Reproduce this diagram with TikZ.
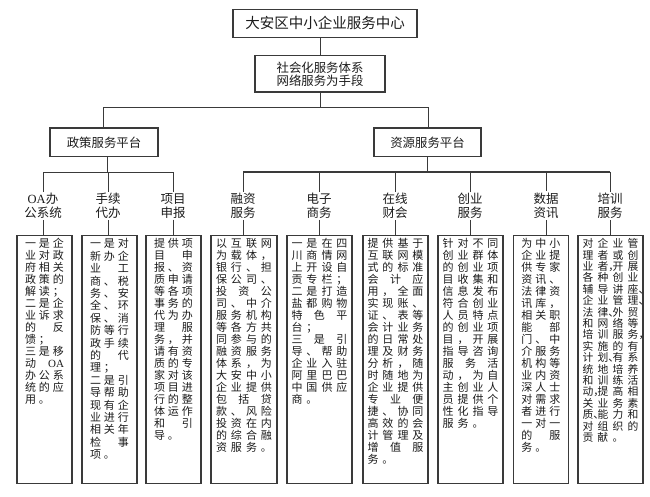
\documentclass[tikz,border=0pt]{standalone}
\usepackage{fontspec}
\setmainfont{Noto Sans CJK SC}
\newfontfamily\lserif{Liberation Serif}
\usetikzlibrary{calc}
\definecolor{linec}{HTML}{3A3A3A}
\definecolor{txtc}{HTML}{1C1C1C}
\setlength\parindent{0pt}
\newlength\pitchW
\def\sprA#1{\ifx\relax#1\else#1\expandafter\sprB\fi}
\def\sprB#1{\ifx\relax#1\else\hfill#1\expandafter\sprB\fi}
\def\lstA#1{\ifx\relax#1\else\makebox[\pitchW][l]{#1}\expandafter\lstA\fi}
\newcommand\RF[1]{\noindent\makebox[\hsize][l]{\sprA#1\relax}\par}
\newcommand\RL[1]{\noindent\makebox[\hsize][l]{\lstA#1\relax}\par}
\newcommand\pcc[2]{#1\rlap{#2}}
\begin{document}
\begin{tikzpicture}[x=1pt,y=-1pt,
  cbox/.style={draw=linec,line width=1.2pt,fill=white,inner sep=0pt,text=txtc},
  wire/.style={draw=linec,line width=0.9pt},
  thickwire/.style={draw=linec,line width=1.8pt},
  lbl/.style={font=\fontsize{12.5}{13.5}\selectfont,align=center,inner sep=1.5pt,text=txtc},
  txtfour/.style={text width=56pt,inner sep=0pt,anchor=north,font=\fontsize{11}{12}\selectfont,text=txtc,execute at begin node={\setlength\pitchW{15pt}}},
  txtthree/.style={text width=39pt,inner sep=0pt,anchor=north,font=\fontsize{11}{12}\selectfont,text=txtc,execute at begin node={\setlength\pitchW{14pt}}},
  lowbox/.style={cbox,minimum height=248pt}]
\fill[white] (0,0) rectangle (650,497);
\useasboundingbox (0,0) rectangle (650,497);

% top levels
\node[cbox,minimum width=184pt,minimum height=28pt,font=\fontsize{14.5}{16}\selectfont] (top) at (325,23.3) {大安区中小企业服务中心};
\node[cbox,minimum width=130pt,minimum height=36.3pt,align=center,font=\fontsize{12.4}{13}\selectfont] (soc) at (320,73.9) {社会化服务体系\\网络服务为手段};
\node[cbox,minimum width=108pt,minimum height=28.7pt,font=\fontsize{12.4}{14}\selectfont] (pol) at (104,142.3) {政策服务平台};
\node[cbox,minimum width=107pt,minimum height=28.7pt,font=\fontsize{12.4}{14}\selectfont] (res) at (427.5,142.3) {资源服务平台};

\coordinate (busAL) at (103,107.3);
\coordinate (busAR) at (428.6,107.3);
\coordinate (busBL) at (43,172.5);
\coordinate (busBR) at (173,172.5);
\coordinate (busBM) at (107,172.5);
\coordinate (busCL) at (243,172);
\coordinate (busCR) at (610,172);
\coordinate (busCM) at (427,172);

\draw[wire] (top.south -| soc.north) -- (soc.north);
\draw[wire] (soc.south) -- (soc.south |- busAL);
\draw[wire] (busAL) -- (busAR);
\draw[wire] (busAL) -- (busAL |- pol.north);
\draw[wire] (busAR) -- (busAR |- res.north);
\draw[wire] (pol.south -| busBM) -- (busBM);
\draw[wire] (busBL) -- (busBR);
\draw[wire] (res.south -| busCM) -- (busCM);
\draw[thickwire] (busCL) -- (busCR);

% labels
\node[lbl] (l1) at (43,205.8) {{\lserif OA}办\\公系统};
\node[lbl] (l2) at (108,205.8) {手续\\代办};
\node[lbl] (l3) at (173,205.8) {项目\\申报};
\node[lbl] (l4) at (243,205.8) {融资\\服务};
\node[lbl] (l5) at (319,205.8) {电子\\商务};
\node[lbl] (l6) at (395,205.8) {在线\\财会};
\node[lbl] (l7) at (470,205.8) {创业\\服务};
\node[lbl] (l8) at (546,205.8) {数据\\资讯};
\node[lbl] (l9) at (610,205.8) {培训\\服务};

% bottom boxes
\node[lowbox,minimum width=55pt] (b1) at (44.5,359.5) {};
\node[lowbox,minimum width=55pt] (b2) at (109.5,359.5) {};
\node[lowbox,minimum width=55pt] (b3) at (173.5,359.5) {};
\node[lowbox,minimum width=66pt] (b4) at (244,359.5) {};
\node[lowbox,minimum width=65pt] (b5) at (319.5,359.5) {};
\node[lowbox,minimum width=65pt] (b6) at (395.5,359.5) {};
\node[lowbox,minimum width=65pt] (b7) at (470.5,359.5) {};
\node[lowbox,minimum width=55pt] (b8) at (540.8,359.5) {};
\node[lowbox,minimum width=65pt] (b9) at (610.5,359.5) {};

\foreach \i in {1,2,3}{
  \draw[wire] (l\i |- busBL) -- (l\i.north);
  \draw[wire] (l\i.south) -- (l\i.south |- b\i.north);
}
\foreach \i in {4,5,6,7,8,9}{
  \draw[wire] (l\i |- busCL) -- (l\i.north);
  \draw[wire] (l\i.south) -- (l\i.south |- b\i.north);
}

% texts
\node[txtthree] (t1) at ([yshift=-3.5pt]b1.north) {%
\RF{一是企}\RF{业对政}\RF{府相关}\RF{政策的}\RL{解读；}%
\RF{二是企}\RF{业诉求}\RF{的反}\RL{馈；}%
\RF{三是移}\RF{动{{\lserif OA}}}\RF{办公系}\RF{统的应}\RL{用。}};

\node[txtthree,font=\fontsize{11}{12.4}\selectfont] (t2) at ([yshift=-3.5pt]b2.north) {%
\RF{一是对}\RF{新办企}\RF{业工}\RF{商、税}\RF{务、安}\RF{全、环}\RF{保、消}\RF{防等行}\RF{政手续}\RF{的代}\RL{理；}%
\RF{二是引}\RF{导帮助}\RF{现有企}\RF{业进行}\RF{相关年}\RF{检事}\RL{项。}};

\node[txtthree] (t3) at ([yshift=-3.5pt]b3.north) {%
\RF{提供项}\RF{目申}\RF{报、资}\RF{质申请}\RF{等各项}\RF{事务的}\RF{代为办}\RF{理服}\RF{务，并}\RF{请有资}\RF{质的专}\RF{家对该}\RF{项目进}\RF{行的整}\RF{体运作}\RF{和引}\RL{导。}};

\node[txtfour] (t4) at ([yshift=-3.5pt]b4.north) {%
\RF{以互联网}\RF{为载体，}\RF{银行、担}\RF{保公司、}\RF{投资公}\RF{司、中介}\RF{服务机构}\RF{等各方共}\RF{同参与的}\RF{融资服务}\RF{体系，为}\RF{大安中小}\RF{企业提供}\RF{包括贷}\RF{款、风险}\RF{投资在内}\RF{的综合融}\RL{资服务。}};

\node[txtfour] (t5) at ([yshift=-3.5pt]b5.north) {%
\RF{一是在四}\RF{川商情网}\RF{上开设自}\RL{贡专栏；}%
\RF{二是打造}\RF{盐都购物}\RF{特色平}\RL{台；}%
\RF{三是引}\RF{导、帮助}\RF{企业入驻}\RF{阿里巴巴}\RF{中国供应}\RL{商。}};

\node[txtfour] (t6) at ([yshift=-3.5pt]b6.north) {%
\RF{提供基于}\RF{互联网模}\RF{式的标准}\RF{会计应}\RF{用，全面}\RF{实现账、}\RF{证、表等}\RF{会计业务}\RF{的日常处}\RF{理及财务}\RF{分析，随}\RF{时随地为}\RF{企业提供}\RF{专业便}\RF{捷、协同}\RF{高效的会}\RF{计管理及}\RF{增值服}\RL{务。}};

\node[txtfour] (t7) at ([yshift=-3.5pt]b7.north) {%
\RF{针对不同}\RF{创业群体}\RF{的创业项}\RF{目收集和}\RF{信息发布}\RF{符合创业}\RF{人员特点}\RF{的创业项}\RF{目，开展}\RF{指导咨询}\RF{服务活}\RF{动，为自}\RF{主创业人}\RF{员提供个}\RF{性化指导}\RL{服务。}};

\node[txtthree] (t8) at ([yshift=-3.5pt]b8.north) {%
\RF{为中小}\RF{企业提}\RF{供专家}\RF{资讯、}\RF{法律资}\RF{讯库，}\RF{相关职}\RF{能部}\RF{门、中}\RF{介服务}\RF{机构等}\RF{业内资}\RF{深人士}\RF{对需求}\RF{者进行}\RF{一对一}\RF{的服}\RL{务。}};

\node[txtfour,font=\fontsize{10.8}{11.4}\selectfont] (t9) at ([yshift=-3.5pt]b9.north) {%
\RF{对企业管}\RF{理者或创}\RF{业{\pcc{者}{，}}开展}\RF{各种创业}\RF{辅导讲{\pcc{座}{、}}}\RF{企业管{\pcc{理}{、}}}\RF{法{\pcc{律}{、}}外贸}\RF{和网络等}\RF{培训服{\pcc{务}{，}}}\RF{实施的有}\RF{计{\pcc{划}{、}}有系}\RF{统地培养}\RF{和训练活}\RF{{\pcc{动}{，}}提高相}\RF{关业务素}\RF{{\pcc{质}{、}}能力和}\RF{对组织的}\RL{贡献。}};
\end{tikzpicture}
\end{document}
